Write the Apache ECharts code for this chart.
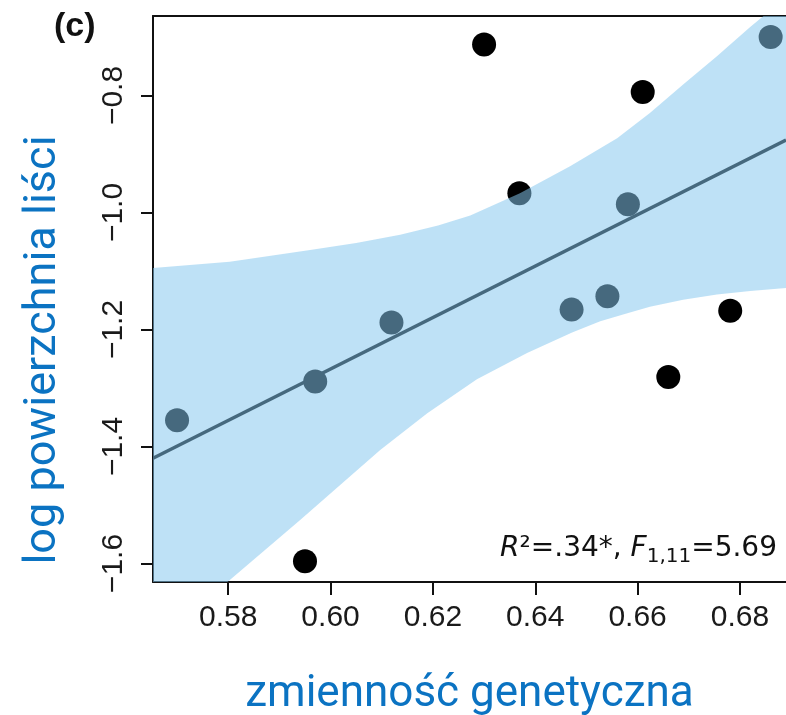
<!DOCTYPE html>
<html>
<head>
<meta charset="utf-8">
<script src="https://cdn.jsdelivr.net/npm/echarts@6/dist/echarts.min.js"></script>
<style>
html,body{margin:0;padding:0;background:#fff;}
#chart{width:786px;height:715px;}
</style>
</head>
<body>
<div id="chart"></div>
<script>
// ---- data ----
const pointsX = [0.5700, 0.5970, 0.6119, 0.6369, 0.6471, 0.6541, 0.6581, 0.6860, 0.5950, 0.6300, 0.6610, 0.6660, 0.6781];
const pointsY = [-1.355, -1.289, -1.188, -0.967, -1.166, -1.143, -0.986, -0.700, -1.596, -0.713, -0.794, -1.281, -1.168];

const fitX = [0.5653, 0.6890];
const fitY = [-1.420, -0.876];

const bandUpperX = [0.5653, 0.5803, 0.5960, 0.6050, 0.6136, 0.6210, 0.6273, 0.6370, 0.6468, 0.6560, 0.6624, 0.6689, 0.6755, 0.6820, 0.6890];
const bandUpperY = [-1.095, -1.084, -1.064, -1.052, -1.038, -1.022, -1.005, -0.967, -0.921, -0.873, -0.830, -0.781, -0.733, -0.683, -0.632];
const bandLowerX = [0.5653, 0.5798, 0.5940, 0.6097, 0.6189, 0.6286, 0.6384, 0.6472, 0.6527, 0.6580, 0.6624, 0.6689, 0.6755, 0.6820, 0.6890];
const bandLowerY = [-1.740, -1.632, -1.526, -1.406, -1.343, -1.285, -1.240, -1.205, -1.186, -1.172, -1.161, -1.149, -1.140, -1.134, -1.129];

const xTicks = [0.58, 0.60, 0.62, 0.64, 0.66, 0.68];
const yTicks = [-1.6, -1.4, -1.2, -1.0, -0.8];

const xRange = [0.5653, 0.6890];
const yRange = [-1.6316, -0.6641];

const xTitle = 'zmienność genetyczna';
const yTitle = 'log powierzchnia liści';
const panelLabel = '(c)';

// ---- chart ----
const chart = echarts.init(document.getElementById('chart'));
const axisColor = '#111';
const titleBlue = '#0b73c2';
const bandColor = 'rgba(132,198,238,0.53)';

const option = {
  animation: false,
  backgroundColor: '#fff',
  grid: { left: 153, right: 0, top: 16, bottom: 133, containLabel: false, outerBoundsMode: 'none' },
  xAxis: [
    {
      type: 'value', min: xRange[0], max: xRange[1],
      name: xTitle, nameLocation: 'middle', nameGap: 91,
      nameTextStyle: { color: titleBlue, fontFamily: 'Roboto', fontSize: 44 },
      axisLine: { show: true, lineStyle: { color: axisColor, width: 2 } },
      axisTick: { show: true, inside: false, length: 13, customValues: xTicks, lineStyle: { color: axisColor, width: 2 } },
      axisLabel: {
        customValues: xTicks, margin: 21, color: '#1a1a1a',
        fontFamily: 'Liberation Sans', fontSize: 30,
        formatter: v => v.toFixed(2)
      },
      splitLine: { show: false }
    },
    {
      type: 'value', position: 'top', min: xRange[0], max: xRange[1],
      axisLine: { show: true, lineStyle: { color: axisColor, width: 2 } },
      axisTick: { show: false }, axisLabel: { show: false }, splitLine: { show: false }
    }
  ],
  yAxis: {
    type: 'value', min: yRange[0], max: yRange[1],
    axisLine: { show: true, lineStyle: { color: axisColor, width: 2 } },
    axisTick: { show: true, inside: false, length: 12, customValues: yTicks, lineStyle: { color: axisColor, width: 2 } },
    axisLabel: {
      customValues: yTicks, rotate: 90, margin: 24, color: '#1a1a1a',
      fontFamily: 'Liberation Sans', fontSize: 30,
      formatter: v => (v < 0 ? '\u2212' : '') + Math.abs(v).toFixed(1)
    },
    splitLine: { show: false }
  },
  graphic: [
    {
      type: 'text', left: 54, top: 10, z: 10,
      style: { text: panelLabel, fontFamily: 'Liberation Sans', fontWeight: 'bold', fontSize: 34, fill: '#111' }
    },
    {
      type: 'text', x: 44, y: 350, rotation: Math.PI / 2, z: 10,
      style: { text: yTitle, fontFamily: 'Roboto', fontSize: 45, fill: titleBlue, align: 'center', verticalAlign: 'middle' }
    },
    {
      type: 'text', x: 777, y: 566, z: 10,
      style: {
        text: '{i|R}{n|²=.34*, }{i|F}{s|1,11}{n|=5.69}',
        align: 'right', verticalAlign: 'bottom',
        rich: {
          i: { fontFamily: 'DejaVu Sans', fontStyle: 'italic', fontSize: 28, fill: '#111', lineHeight: 34 },
          n: { fontFamily: 'DejaVu Sans', fontSize: 28, fill: '#111', lineHeight: 34 },
          s: { fontFamily: 'DejaVu Sans', fontSize: 20, fill: '#111', lineHeight: 34, padding: [16, 0, 0, 0] }
        }
      }
    }
  ],
  series: [
    {
      type: 'scatter', z: 2, symbol: 'circle', symbolSize: 24,
      itemStyle: { color: '#000', opacity: 1 },
      data: pointsX.map((x, i) => [x, pointsY[i]])
    },
    {
      type: 'line', z: 2, symbol: 'none', silent: true,
      lineStyle: { color: '#000', width: 3.5 },
      data: fitX.map((x, i) => [x, fitY[i]])
    },
    {
      type: 'custom', z: 5, silent: true,
      data: [[bandUpperX[0], bandUpperY[0]]],
      renderItem: function (params, api) {
        const pts = [];
        bandUpperX.forEach((x, i) => pts.push(api.coord([x, bandUpperY[i]])));
        for (let i = bandLowerX.length - 1; i >= 0; i--) pts.push(api.coord([bandLowerX[i], bandLowerY[i]]));
        const cs = params.coordSys;
        return {
          type: 'polygon',
          shape: { points: pts },
          style: { fill: bandColor, stroke: null },
          clipPath: { type: 'rect', shape: { x: cs.x, y: cs.y, width: cs.width, height: cs.height } }
        };
      }
    }
  ]
};
chart.setOption(option);
</script>
</body>
</html>
